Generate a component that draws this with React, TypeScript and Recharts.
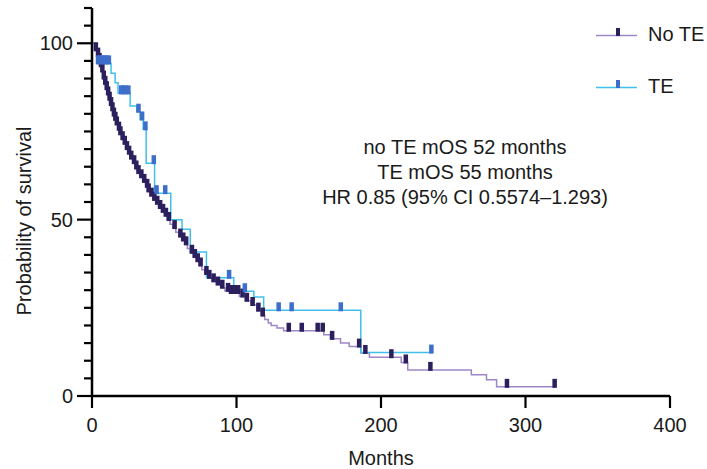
import React from "react";
import { ComposedChart, Line, Scatter, XAxis, YAxis } from "recharts";

// Kaplan-Meier steps (months -> % surviving)
const NO_TE_TIMES = [
  0, 2, 3.5, 4.5, 5.5, 6.5, 7.5, 8.5, 9.5, 10.5, 11.5, 12.5, 13.5, 14.5, 15.5, 16.5, 18, 19, 20.5, 22,
  23.5, 25, 26.5, 28, 30, 31.5, 33, 35, 37, 38.5, 40, 42, 44, 46, 48, 50, 52, 54, 56, 58, 60, 62, 64,
  66, 68, 70, 72, 74, 76, 78, 80, 83, 86, 89, 92, 96, 102, 106, 110, 114, 117, 119.5, 122, 124, 128,
  132.6, 160.4, 165, 172, 178, 186, 192, 214, 218.5, 262.5, 273, 280, 320,
];
const NO_TE_SURV = [
  100, 98, 96.5, 95, 93.5, 92, 90, 88.5, 87, 85.5, 84, 82.5, 81, 79.5, 78.3, 77, 75.5, 74.2, 72.8, 71.5,
  70, 68.7, 67.3, 66, 64.5, 63.2, 62, 60.7, 59.3, 58, 56.8, 55.6, 54.5, 53.3, 52.2, 51.1, 49.9, 48.7,
  47.6, 46.4, 45.2, 44.1, 43, 41.8, 40.6, 39.4, 38.2, 37, 35.8, 34.6, 33.5, 32.5, 31.6, 30.7, 29.8,
  29.2, 28.2, 27, 25.8, 24.2, 22.8, 21.7, 20.7, 20, 19.3, 18.5, 17.4, 16.2, 15, 14, 12.2, 11, 9.5, 7.4,
  6, 4.6, 2.6, 2.6,
];
const NO_TE_CENSOR = [
  2.5, 4, 5, 6, 7, 8, 9, 10, 11, 12, 13, 14, 15, 16, 17, 18.5, 19.5, 21, 22.5, 24, 25.5, 27, 29, 30.5,
  32, 34, 36, 38, 39, 41, 43, 45, 47, 49, 51, 53, 57, 61, 63, 65, 69, 71, 73, 75, 79, 81, 84, 87, 90,
  94, 96, 98, 101, 104, 107, 111, 115, 118, 136, 145, 156, 159.5, 166, 184.7, 189, 207, 217, 234, 287,
  320,
];

const TE_TIMES = [
  0, 3.5, 13.2, 16, 18, 26.4, 31, 33.3, 35.4, 37.5, 43.3, 54.5, 62.3, 68, 79.2, 98.1, 112, 118.8, 186,
  234.7,
];
const TE_SURV = [
  100, 94.3, 91.5, 88.8, 85.8, 82.2, 80.6, 78.4, 75.6, 66, 57.5, 50, 47.3, 40.8, 33.5, 29.7, 28.1, 24.3,
  12.3, 12.3,
];
const TE_CENSOR = [
  4, 5.5, 7, 8.5, 10, 11.5, 20, 21.5, 23, 25, 32, 34.5, 36.8, 42.6, 44.5, 50.5, 94.7, 105.6, 129, 138,
  172, 234.7,
];

const X_TICKS = [0, 100, 200, 300, 400];
const Y_TICKS = [0, 5, 10, 15, 20, 25, 30, 35, 40, 45, 50, 55, 60, 65, 70, 75, 80, 85, 90, 95, 100, 105, 110];
const Y_LABELED = [0, 50, 100];

const NOTES = ["no TE mOS 52 months", "TE mOS 55 months", "HR 0.85 (95% CI 0.5574\u20131.293)"];

const NO_TE_LINE = "#9e86c8";
const NO_TE_MARK = "#2c1f5e";
const TE_LINE = "#41c0ee";
const TE_MARK = "#3d6ec9";
const FONT = "'Liberation Sans', Arial, sans-serif";
const INK = "#1a1a1a";

const survivalAt = (times: number[], vals: number[], t: number) => {
  let s = vals[0];
  for (let i = 0; i < times.length; i++) if (times[i] <= t) s = vals[i];
  return s;
};

const toRows = (times: number[], vals: number[]) => times.map((t, i) => ({ t, s: vals[i] }));
const toMarks = (censor: number[], times: number[], vals: number[]) =>
  censor.map((t) => ({ t, s: survivalAt(times, vals, t) }));

const noTeRows = toRows(NO_TE_TIMES, NO_TE_SURV);
const teRows = toRows(TE_TIMES, TE_SURV);
const noTeMarks = toMarks(NO_TE_CENSOR, NO_TE_TIMES, NO_TE_SURV);
const teMarks = toMarks(TE_CENSOR, TE_TIMES, TE_SURV);

const tickMark = (color: string) => (props: any) => (
  <rect x={props.cx - 2} y={props.cy - 8} width={4.5} height={9} fill={color} />
);

const YTick = (props: any) => {
  const { x, y, payload } = props;
  const major = Y_LABELED.includes(payload.value);
  return (
    <g>
      <line x1={x - (major ? 15 : 8)} x2={x} y1={y} y2={y} stroke="#000" strokeWidth={2.2} />
      {major && (
        <text x={x - 19} y={y + 7} textAnchor="end" fontSize={20} fontFamily={FONT} fill={INK}>
          {payload.value}
        </text>
      )}
    </g>
  );
};

export default function App() {
  return (
    <div style={{ position: "absolute", left: 0, top: 0, width: 707, height: 469, background: "#fff" }}>
      <ComposedChart width={707} height={469} margin={{ top: 8, right: 37, left: 0, bottom: 0 }}>
        <XAxis
          type="number"
          dataKey="t"
          domain={[0, 400]}
          ticks={X_TICKS}
          interval={0}
          height={73}
          axisLine={{ stroke: "#000", strokeWidth: 2.5 }}
          tickLine={{ stroke: "#000", strokeWidth: 2.2 }}
          tickSize={12}
          tickMargin={10}
          tick={{ fontSize: 20, fontFamily: FONT, fill: INK }}
        />
        <YAxis
          type="number"
          dataKey="s"
          domain={[0, 110]}
          ticks={Y_TICKS}
          interval={0}
          width={92}
          axisLine={{ stroke: "#000", strokeWidth: 2.5 }}
          tickLine={false}
          tickSize={0}
          tickMargin={0}
          tick={<YTick />}
        />
        <Line
          data={noTeRows}
          dataKey="s"
          type="stepAfter"
          stroke={NO_TE_LINE}
          strokeWidth={1.5}
          dot={false}
          isAnimationActive={false}
        />
        <Line
          data={teRows}
          dataKey="s"
          type="stepAfter"
          stroke={TE_LINE}
          strokeWidth={1.5}
          dot={false}
          isAnimationActive={false}
        />
        <Scatter data={noTeMarks} dataKey="s" shape={tickMark(NO_TE_MARK)} isAnimationActive={false} />
        <Scatter data={teMarks} dataKey="s" shape={tickMark(TE_MARK)} isAnimationActive={false} />
      </ComposedChart>

      <svg width={707} height={469} style={{ position: "absolute", left: 0, top: 0, pointerEvents: "none" }}>
        <text
          x={31}
          y={221}
          transform="rotate(-90 31 221)"
          textAnchor="middle"
          fontSize={20}
          fontFamily={FONT}
          fill={INK}
        >
          Probability of survival
        </text>
        <text x={381} y={465} textAnchor="middle" fontSize={20} fontFamily={FONT} fill={INK}>
          Months
        </text>
        {NOTES.map((n, i) => (
          <text key={n} x={465} y={154 + i * 25} textAnchor="middle" fontSize={20} fontFamily={FONT} fill={INK}>
            {n}
          </text>
        ))}
        {/* legend */}
        <line x1={596} x2={637} y1={35.5} y2={35.5} stroke={NO_TE_LINE} strokeWidth={1.5} />
        <rect x={616} y={28} width={4} height={8} fill={NO_TE_MARK} />
        <text x={648} y={41} fontSize={20} fontFamily={FONT} fill={INK}>
          No TE
        </text>
        <line x1={596} x2={637} y1={87.5} y2={87.5} stroke={TE_LINE} strokeWidth={1.5} />
        <rect x={616} y={80} width={4} height={8} fill={TE_MARK} />
        <text x={648} y={93} fontSize={20} fontFamily={FONT} fill={INK}>
          TE
        </text>
      </svg>
    </div>
  );
}
